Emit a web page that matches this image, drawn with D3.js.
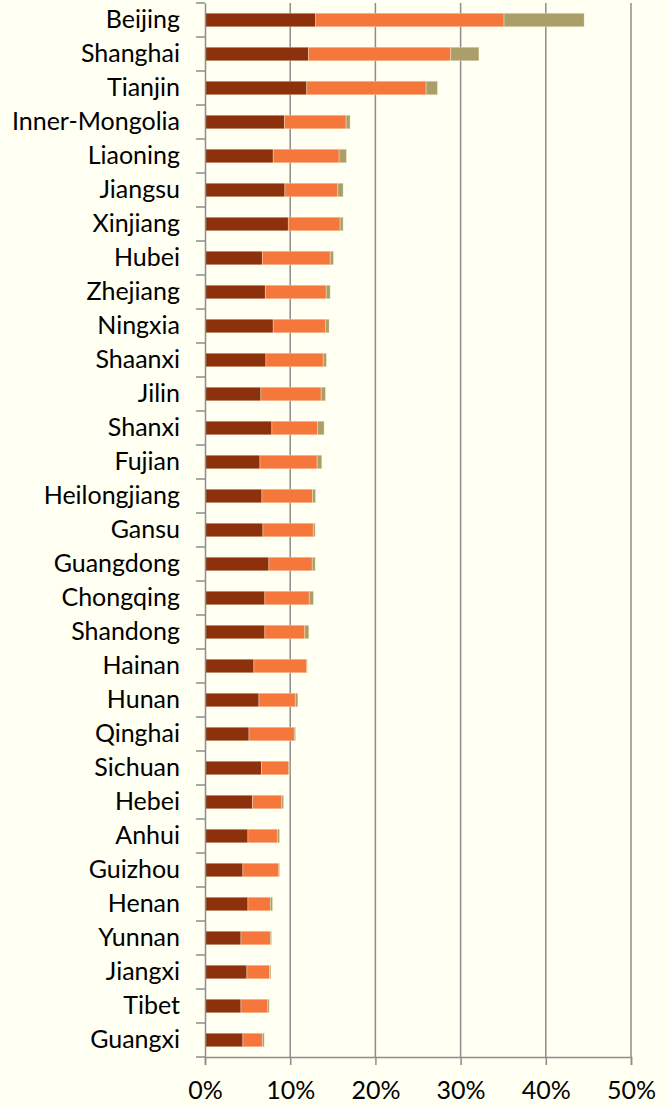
<!DOCTYPE html>
<html>
<head>
<meta charset="utf-8">
<script src="https://cdn.jsdelivr.net/npm/d3@7"></script>
<style>
  html, body { margin: 0; padding: 0; background: #fffff2; }
  svg { display: block; }
</style>
</head>
<body>
<div id="chart"></div>
<script>
// provinces, top to bottom
var provinces = ['Beijing', 'Shanghai', 'Tianjin', 'Inner-Mongolia', 'Liaoning', 'Jiangsu', 'Xinjiang',
  'Hubei', 'Zhejiang', 'Ningxia', 'Shaanxi', 'Jilin', 'Shanxi', 'Fujian', 'Heilongjiang', 'Gansu',
  'Guangdong', 'Chongqing', 'Shandong', 'Hainan', 'Hunan', 'Qinghai', 'Sichuan', 'Hebei', 'Anhui',
  'Guizhou', 'Henan', 'Yunnan', 'Jiangxi', 'Tibet', 'Guangxi'];

// three stacked parts, in percent
var part1 = [13.0, 12.15, 11.95, 9.34, 8.0, 9.38, 9.77, 6.72, 7.07, 8.0, 7.15, 6.56, 7.85, 6.45, 6.68, 6.8,
  7.5, 7.03, 7.03, 5.74, 6.33, 5.16, 6.64, 5.59, 5.04, 4.45, 5.04, 4.22, 4.92, 4.22, 4.45];
var part2 = [22.1, 16.7, 14.0, 7.22, 7.74, 6.21, 6.09, 7.97, 7.15, 6.18, 6.72, 7.07, 5.39, 6.71, 5.94, 5.9,
  5.08, 5.2, 4.69, 6.21, 4.26, 5.31, 3.2, 3.43, 3.44, 4.22, 2.62, 3.44, 2.66, 3.16, 2.27];
var part3 = [9.4, 3.3, 1.33, 0.47, 0.86, 0.62, 0.35, 0.39, 0.47, 0.39, 0.39, 0.51, 0.74, 0.55, 0.35, 0.23,
  0.35, 0.5, 0.47, 0.05, 0.31, 0.16, 0.12, 0.2, 0.27, 0.08, 0.27, 0.15, 0.15, 0.16, 0.23];

var xTicks = [0, 10, 20, 30, 40, 50];
var colors = ['#8c310b', '#f5773b', '#aa9f68'];

var width = 668, height = 1107;
var margin = {top: 3, right: 37, bottom: 50, left: 205};

var svg = d3.select('#chart').append('svg')
  .attr('width', width)
  .attr('height', height);

var x = d3.scaleLinear().domain([0, 50]).range([margin.left, width - margin.right]);
var y = d3.scaleBand().domain(provinces).range([margin.top, height - margin.bottom]).paddingInner(0.6).paddingOuter(0.3);

var table = provinces.map(function(p, i) {
  return {name: p, a: part1[i], b: part2[i], c: part3[i]};
});
var stack = d3.stack().keys(['a', 'b', 'c'])(table);

// vertical gridlines
svg.append('g')
  .selectAll('line')
  .data(xTicks.slice(1))
  .enter().append('line')
  .attr('x1', function(d) { return x(d); })
  .attr('x2', function(d) { return x(d); })
  .attr('y1', margin.top)
  .attr('y2', height - margin.bottom)
  .attr('stroke', '#8c8c8c')
  .attr('stroke-width', 1.5);

// bars
svg.append('g')
  .selectAll('g')
  .data(stack)
  .enter().append('g')
  .attr('fill', function(d, i) { return colors[i]; })
  .selectAll('rect')
  .data(function(d) { return d; })
  .enter().append('rect')
  .attr('x', function(d) { return x(d[0]); })
  .attr('width', function(d) { return x(d[1]) - x(d[0]); })
  .attr('y', function(d) { return y(d.data.name); })
  .attr('height', y.bandwidth())
  .attr('stroke', '#fff7e0')
  .attr('stroke-opacity', 0.6)
  .attr('stroke-width', 0.6);

// x axis
var xAxis = svg.append('g')
  .attr('transform', 'translate(0,' + (height - margin.bottom) + ')')
  .call(d3.axisBottom(x).tickValues(xTicks).tickSize(8).tickPadding(16)
    .tickFormat(function(d) { return d + '%'; }));

// y axis with ticks at band boundaries
var yAxis = svg.append('g')
  .attr('transform', 'translate(' + margin.left + ',0)')
  .call(d3.axisLeft(y).tickSize(0).tickPadding(25));

var step = y.step();
svg.append('g')
  .selectAll('line')
  .data(d3.range(provinces.length + 1))
  .enter().append('line')
  .attr('x1', margin.left - 9)
  .attr('x2', margin.left)
  .attr('y1', function(i) { return margin.top + i * step; })
  .attr('y2', function(i) { return margin.top + i * step; })
  .attr('stroke', '#8c8c8c')
  .attr('stroke-width', 1.5);

[xAxis, yAxis].forEach(function(ax) {
  ax.select('.domain').attr('stroke', '#8c8c8c').attr('stroke-width', 1.5);
  ax.selectAll('.tick line').attr('stroke', '#8c8c8c').attr('stroke-width', 1.5);
  ax.selectAll('text')
    .attr('fill', '#000')
    .style('font-family', 'Lato, "Open Sans", sans-serif')
    .style('font-size', '25px');
});
</script>
</body>
</html>
